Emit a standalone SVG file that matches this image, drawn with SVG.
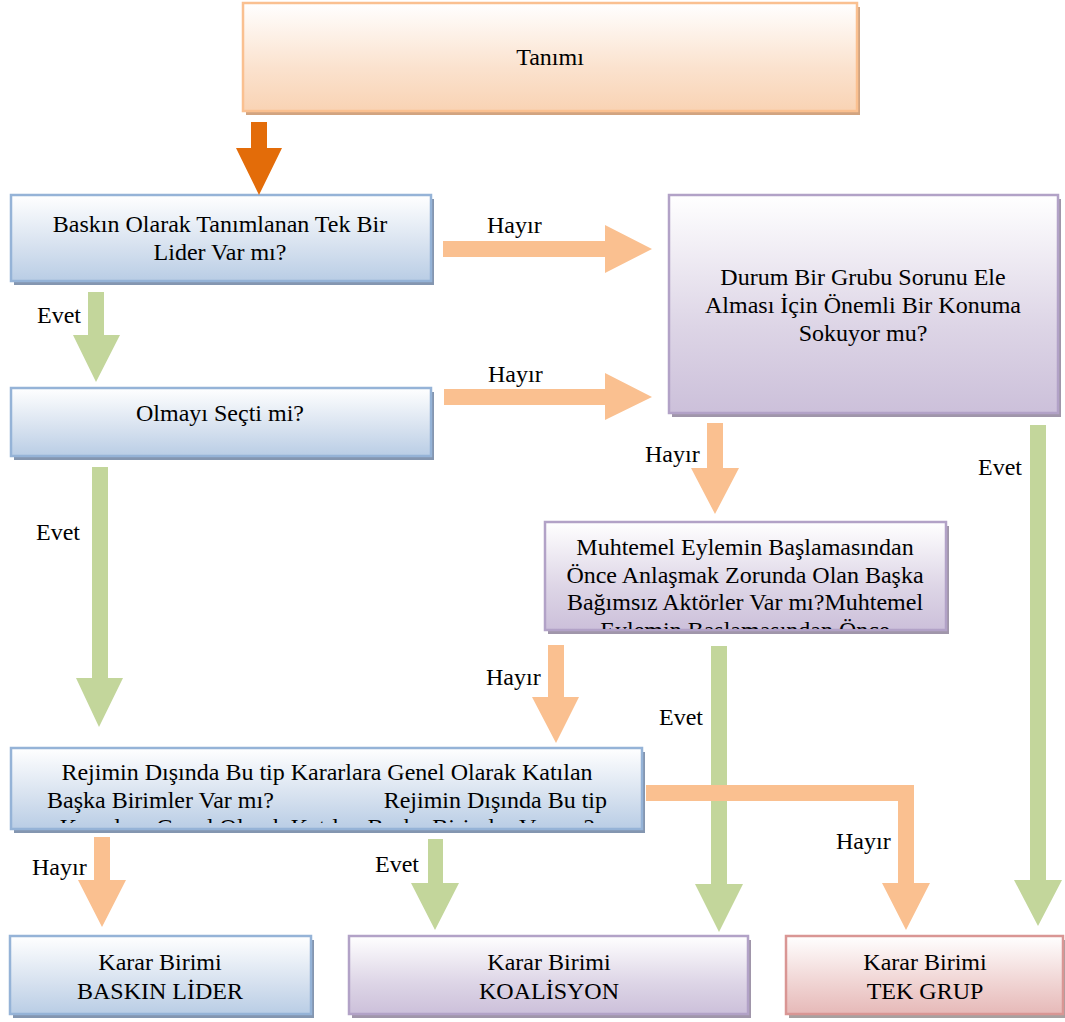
<svg xmlns="http://www.w3.org/2000/svg" width="1065" height="1022" viewBox="0 0 1065 1022">
<style>
text{font-family:"Liberation Serif","Times New Roman",serif;font-size:24px;fill:#000}
.c{text-anchor:middle}
.box{stroke-width:2.5}
.blue{fill:url(#gBlue);stroke:#95B3D7}
.purple{fill:url(#gPurple);stroke:#B2A2C7}
.orange{fill:url(#gOrange);stroke:#FAC090}
.red{fill:url(#gRed);stroke:#D99694}
.shB{fill:#8496B0}
.shP{fill:#A096AA}
.shO{fill:#D2A480}
.shR{fill:#A8A0A0}
.ao{fill:#FAC090}
.ag{fill:#C3D69B}
.ad{fill:#E36C09}
</style>
<defs>
<linearGradient id="gBlue" x1="0" y1="0" x2="0" y2="1"><stop offset="0" stop-color="#FFFFFF"/><stop offset="0.6" stop-color="#D6E1EF"/><stop offset="1" stop-color="#B9CDE5"/></linearGradient>
<linearGradient id="gPurple" x1="0" y1="0" x2="0" y2="1"><stop offset="0" stop-color="#FFFFFF"/><stop offset="0.6" stop-color="#DDD5E6"/><stop offset="1" stop-color="#CCC0DA"/></linearGradient>
<linearGradient id="gOrange" x1="0" y1="0" x2="0" y2="1"><stop offset="0" stop-color="#FFFFFF"/><stop offset="0.6" stop-color="#FBE2CE"/><stop offset="1" stop-color="#F9D3B4"/></linearGradient>
<linearGradient id="gRed" x1="0" y1="0" x2="0" y2="1"><stop offset="0" stop-color="#FFFFFF"/><stop offset="0.6" stop-color="#F0D4D3"/><stop offset="1" stop-color="#E6B9B8"/></linearGradient>
<clipPath id="clipM"><rect x="545" y="522" width="401" height="107"/></clipPath>
<clipPath id="clipR"><rect x="11" y="748" width="631" height="75"/></clipPath>
</defs>

<g id="n-tanimi">
<rect class="shO" x="246" y="7" width="614" height="108"/>
<rect class="box orange" x="243" y="3" width="614" height="108"/>
<text class="c" x="550" y="65">Tanımı</text>
</g>

<g id="n-baskin">
<rect class="shB" x="14" y="199" width="420" height="86"/>
<rect class="box blue" x="11" y="195" width="420" height="86"/>
<text class="c" x="220" y="232">Baskın Olarak Tanımlanan Tek Bir</text>
<text class="c" x="220" y="260">Lider Var mı?</text>
</g>

<g id="n-olmayi">
<rect class="shB" x="14" y="392" width="420" height="68"/>
<rect class="box blue" x="11" y="388" width="420" height="68"/>
<text class="c" x="220" y="421">Olmayı Seçti mi?</text>
</g>

<g id="n-durum">
<rect class="shP" x="672" y="199" width="389" height="218"/>
<rect class="box purple" x="669" y="195" width="389" height="218"/>
<text class="c" x="863" y="285">Durum Bir Grubu Sorunu Ele</text>
<text class="c" x="863" y="313">Alması İçin Önemli Bir Konuma</text>
<text class="c" x="863" y="341">Sokuyor mu?</text>
</g>

<g id="n-muhtemel">
<rect class="shP" x="548" y="526" width="401" height="108"/>
<rect class="box purple" x="545" y="522" width="401" height="108"/>
<g clip-path="url(#clipM)">
<text class="c" x="745" y="555">Muhtemel Eylemin Başlamasından</text>
<text class="c" x="745" y="582.5">Önce Anlaşmak Zorunda Olan Başka</text>
<text class="c" x="745" y="610">Bağımsız Aktörler Var mı?Muhtemel</text>
<text class="c" x="745" y="637.5">Eylemin Başlamasından Önce</text>
</g>
</g>

<g id="n-rejimin">
<rect class="shB" x="14" y="752" width="631" height="81"/>
<rect class="box blue" x="11" y="748" width="631" height="81"/>
<g clip-path="url(#clipR)">
<text class="c" x="327" y="780">Rejimin Dışında Bu tip Kararlara Genel Olarak Katılan</text>
<text x="47" y="807.5">Başka Birimler Var mı?<tspan x="607" text-anchor="end">Rejimin Dışında Bu tip</tspan></text>
<text class="c" x="327" y="835">Kararlara Genel Olarak Katılan Başka Birimler Var mı?</text>
</g>
</g>

<g id="n-baskin-lider">
<rect class="shB" x="13" y="940" width="301" height="78"/>
<rect class="box blue" x="10" y="936" width="301" height="78"/>
<text class="c" x="160" y="970">Karar Birimi</text>
<text class="c" x="160" y="999">BASKIN LİDER</text>
</g>

<g id="n-koalisyon">
<rect class="shP" x="352" y="940" width="399" height="78"/>
<rect class="box purple" x="349" y="936" width="399" height="78"/>
<text class="c" x="549" y="970">Karar Birimi</text>
<text class="c" x="549" y="999">KOALİSYON</text>
</g>

<g id="n-tek-grup">
<rect class="shR" x="789" y="940" width="277" height="78"/>
<rect class="box red" x="786" y="936" width="277" height="78"/>
<text class="c" x="925" y="970">Karar Birimi</text>
<text class="c" x="925" y="999">TEK GRUP</text>
</g>

<g id="connectors">
<polygon class="ad" points="251,122 267,122 267,148 282,148 259,195 236,148 251,148"/>
<polygon class="ao" points="443,241 605,241 605,225 652,249 605,273 605,257 443,257"/>
<polygon class="ao" points="444,389 605,389 605,373 652,397 605,420 605,405 444,405"/>
<polygon class="ag" points="88,292 104,292 104,335 120,335 96,382 73,335 88,335"/>
<polygon class="ag" points="92,467 108,467 108,678 123,678 99,727 76,678 92,678"/>
<polygon class="ao" points="707,423 723,423 723,468 739,468 715,514 691,468 707,468"/>
<polygon class="ag" points="1030,425 1046,425 1046,880 1062,880 1038,926 1014,880 1030,880"/>
<polygon class="ao" points="548,645 564,645 564,697 579,697 556,743 532,697 548,697"/>
<polygon class="ag" points="711,646 727,646 727,884 743,884 719,932 695,884 711,884"/>
<polygon class="ao" points="646,785 914,785 914,883 930,883 906,930 882,883 898,883 898,801 646,801"/>
<polygon class="ao" points="94,837 110,837 110,880 126,880 102,927 78,880 94,880"/>
<polygon class="ag" points="428,839 443,839 443,883 459,883 435,930 411,883 428,883"/>
<text x="487" y="233">Hayır</text>
<text x="488" y="382">Hayır</text>
<text x="37" y="323">Evet</text>
<text x="36" y="540">Evet</text>
<text x="645" y="462">Hayır</text>
<text x="978" y="475">Evet</text>
<text x="486" y="685">Hayır</text>
<text x="659" y="725">Evet</text>
<text x="836" y="849">Hayır</text>
<text x="32" y="875">Hayır</text>
<text x="375" y="872">Evet</text>
</g>
</svg>
